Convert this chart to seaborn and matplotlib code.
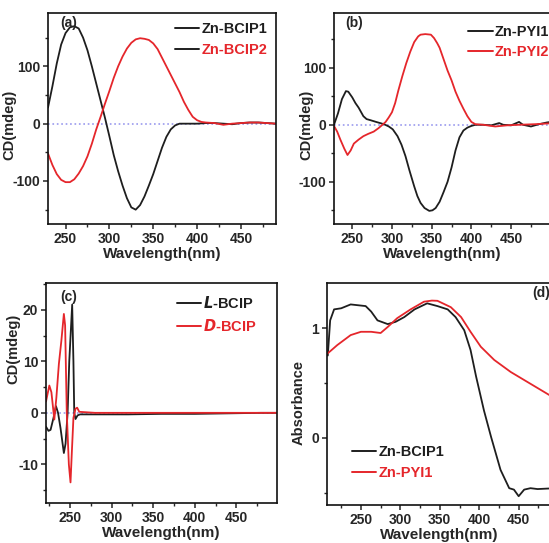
import matplotlib
matplotlib.use("Agg")
import matplotlib.pyplot as plt
import seaborn as sns
from matplotlib.ticker import MultipleLocator
from matplotlib.lines import Line2D

sns.set_style("ticks")
plt.rcParams['font.family'] = ['Liberation Sans', 'DejaVu Sans']
plt.rcParams['font.weight'] = 'bold'
plt.rcParams['axes.labelweight'] = 'bold'
plt.rcParams['axes.unicode_minus'] = False

BLACK = '#1e1e1e'
RED = '#e5262b'
ZERO = '#9a9aee'

# ---- panel (a): Zn-BCIP1 / Zn-BCIP2 CD spectra
a_wl1 = [230, 235, 240, 245, 250, 255, 260, 265, 270, 275, 280, 285, 290, 295,
         300, 305, 310, 315, 320, 325, 330, 335, 340, 345, 350, 355, 360, 365,
         370, 375, 380, 390, 400, 410, 420, 430, 440, 450, 460, 470, 480, 490]
a_bcip1 = [28, 65, 105, 138, 158, 168, 170, 166, 150, 128, 100, 70, 40, 10,
           -22, -55, -83, -108, -130, -146, -150, -142, -127, -108, -88, -65, -42, -23,
           -10, -3, 0, 0, 0, 1, 1, 0, -1, 1, 2, 2, 1, 0]
a_wl2 = [230, 235, 240, 245, 250, 255, 260, 265, 270, 275, 280, 285, 290, 295,
         300, 305, 310, 315, 320, 325, 330, 335, 340, 345, 350, 355, 360, 365,
         370, 375, 380, 385, 390, 395, 400, 405, 410, 420, 430, 440, 450, 460, 470, 480, 490]
a_bcip2 = [-52, -72, -88, -98, -102, -102, -97, -87, -74, -57, -35, -10, 12, 35,
           57, 80, 100, 117, 131, 141, 147, 149, 148, 146, 140, 130, 115, 100,
           85, 70, 55, 38, 24, 12, 6, 3, 2, 1, -2, 0, 1, 2, 2, 1, 0]

# ---- panel (b): Zn-PYI1 / Zn-PYI2 CD spectra
b_wl1 = [227, 232, 237, 242, 245, 250, 254, 258, 264, 268, 273, 280, 285, 290,
         296, 301, 307, 312, 317, 322, 328, 332, 336, 341, 347, 351, 355, 360,
         365, 370, 375, 380, 385, 390, 395, 400, 405, 415, 425, 435, 440, 450,
         460, 465, 475, 485, 495, 505]
b_pyi1 = [0, 20, 45, 59, 58, 48, 38, 30, 15, 10, 8, 5, 3, 1,
          -3, -8, -20, -35, -55, -80, -108, -125, -137, -146, -151, -150, -146, -135,
          -118, -100, -75, -45, -22, -10, -5, -2, 0, 0, -1, 3, 0, -1,
          5, 0, -3, 1, 4, 6]
b_wl2 = [227, 231, 235, 240, 244, 248, 252, 258, 264, 270, 277, 283, 288, 292,
         296, 300, 304, 308, 313, 318, 323, 328, 333, 336, 342, 349, 353, 357,
         360, 365, 370, 375, 380, 385, 390, 395, 400, 405, 415, 430, 445, 460, 480, 505]
b_pyi2 = [-2, -12, -26, -42, -53, -45, -33, -26, -20, -16, -12, -6, 0, 5,
          13, 22, 38, 60, 85, 108, 128, 145, 155, 158, 159, 158, 152, 143,
          135, 115, 95, 78, 58, 42, 28, 15, 5, 1, 0, -3, -1, 0, 1, 3]

# ---- panel (c): L-BCIP / D-BCIP CD spectra
c_wl1 = [221, 224, 226.5, 230, 233, 235.5, 238.5, 241, 242.5, 244.5, 247, 249,
         252.5, 254, 255, 256.5, 259, 262, 280, 320, 360, 400, 440, 480, 500]
c_lbcip = [-2.7, -3.5, -3.3, -1.0, 1.3, 0.0, -3.0, -6.0, -7.8, -6.0, 0.0, 10.0,
           21.0, 10.0, 0.0, -1.2, -0.5, -0.3, -0.3, -0.3, -0.2, -0.2, -0.1, 0.0, 0.0]
c_wl2 = [221, 225, 227.5, 231, 233.5, 236.5, 239.5, 242.5, 244, 246, 248.5, 250.5,
         252, 254, 256.5, 258.5, 261, 280, 320, 360, 400, 440, 480, 500]
c_dbcip = [2.2, 5.3, 4.0, -1.3, 3.0, 9.5, 14.0, 19.2, 17.0, 0.0, -10.0, -13.5,
           -8.0, -1.0, 0.8, 1.0, 0.2, 0.0, 0.0, 0.0, 0.0, 0.0, 0.0, 0.0]

# ---- panel (d): absorbance
d_wl1 = [208, 211, 216, 225, 237, 256, 263, 271, 284, 294, 305, 318, 334, 347,
         360, 370, 381, 389, 396, 406, 415, 427, 438, 444, 450, 457, 465, 474, 488, 495]
d_bcip1 = [0.75, 1.07, 1.17, 1.18, 1.215, 1.20, 1.15, 1.07, 1.036, 1.057, 1.10, 1.17, 1.225, 1.20,
           1.17, 1.10, 0.98, 0.80, 0.56, 0.25, 0.01, -0.29, -0.457, -0.47, -0.53, -0.47,
           -0.457, -0.465, -0.46, -0.46]
d_wl2 = [208, 220, 237, 250, 263, 275, 284, 296, 313, 330, 340, 347, 364, 377,
         389, 402, 419, 440, 461, 489, 495]
d_pyi1 = [0.77, 0.845, 0.936, 0.966, 0.966, 0.955, 1.01, 1.09, 1.17, 1.24, 1.25, 1.248, 1.19, 1.10,
          0.966, 0.83, 0.71, 0.60, 0.51, 0.39, 0.37]

W, H = 549, 543
fig = plt.figure(figsize=(W / 100, H / 100), dpi=100)


def px_axes(left, right, top, bottom):
    return fig.add_axes([left / W, (H - bottom) / H, (right - left) / W, (bottom - top) / H])


def style(ax, xlim, ylim, ymaj, ymin):
    ax.set_xlim(*xlim)
    ax.set_ylim(*ylim)
    ax.xaxis.set_major_locator(MultipleLocator(50))
    ax.xaxis.set_minor_locator(MultipleLocator(25))
    ax.yaxis.set_major_locator(MultipleLocator(ymaj))
    ax.yaxis.set_minor_locator(MultipleLocator(ymin))
    ax.tick_params(which='major', direction='out', length=3.5, width=1.1, labelsize=10, pad=2)
    ax.tick_params(which='minor', direction='out', length=2.2, width=1.0)
    for s in ax.spines.values():
        s.set_linewidth(1.2)
        s.set_color('#111111')
    for t in ax.get_xticklabels() + ax.get_yticklabels():
        t.set_fontweight('bold')
    ax.set_xlabel('Wavelength(nm)', fontsize=11, labelpad=1)


def ylabel(ax, text, x, y):
    ax.set_ylabel(text, fontsize=10.5)
    ax.yaxis.set_label_coords(x, y)


def legend(ax, labels, colors, line_colors, anchor):
    handles = [Line2D([], [], color=c, lw=1.4) for c in line_colors]
    leg = ax.legend(handles, labels, loc='upper left', bbox_to_anchor=anchor, frameon=False,
                    fontsize=10.5, handlelength=1.7, handletextpad=0.15, borderpad=0,
                    labelspacing=0.45, borderaxespad=0)
    for t, c in zip(leg.get_texts(), colors):
        t.set_color(c)
        t.set_fontweight('bold')


lw = 1.3

# (a)
ax = px_axes(48, 276, 13, 224)
ax.axhline(0, color=ZERO, ls=':', lw=1.2)
sns.lineplot(x=a_wl1, y=a_bcip1, ax=ax, color=BLACK, lw=lw, sort=False, estimator=None)
sns.lineplot(x=a_wl2, y=a_bcip2, ax=ax, color=RED, lw=lw, sort=False, estimator=None)
style(ax, (230, 490), (-175, 193), 100, 50)
ylabel(ax, 'CD(mdeg)', -0.14, 0.47)
ax.text(0.055, 0.985, '(a)', transform=ax.transAxes, fontsize=10, fontweight='bold', va='top')
legend(ax, ['Zn-BCIP1', 'Zn-BCIP2'], [BLACK, RED], [BLACK, BLACK], (0.555, 0.955))

# (b)
ax = px_axes(334, 550, 13, 224)
ax.axhline(0, color=ZERO, ls=':', lw=1.2)
sns.lineplot(x=b_wl1, y=b_pyi1, ax=ax, color=BLACK, lw=lw, sort=False, estimator=None)
sns.lineplot(x=b_wl2, y=b_pyi2, ax=ax, color=RED, lw=lw, sort=False, estimator=None)
style(ax, (227, 499), (-174, 196), 100, 50)
ylabel(ax, 'CD(mdeg)', -0.095, 0.47)
ax.text(0.05, 0.985, '(b)', transform=ax.transAxes, fontsize=10, fontweight='bold', va='top')
legend(ax, ['Zn-PYI1', 'Zn-PYI2'], [BLACK, RED], [BLACK, RED], (0.62, 0.945))

# (c)
ax = px_axes(46, 277, 283, 503)
ax.axhline(0, color=ZERO, ls=':', lw=1.2)
sns.lineplot(x=c_wl1, y=c_lbcip, ax=ax, color=BLACK, lw=lw, sort=False, estimator=None)
sns.lineplot(x=c_wl2, y=c_dbcip, ax=ax, color=RED, lw=lw, sort=False, estimator=None)
style(ax, (221, 499), (-17.5, 25.2), 10, 5)
ylabel(ax, 'CD(mdeg)', -0.11, 0.70)
ax.text(0.06, 0.97, '(c)', transform=ax.transAxes, fontsize=10, fontweight='bold', va='top')
legend(ax, [r'$\boldsymbol{L}$-BCIP', r'$\boldsymbol{D}$-BCIP'], [BLACK, RED], [BLACK, RED],
       (0.565, 0.945))

# (d)
ax = px_axes(327, 551, 283, 505)
sns.lineplot(x=d_wl1, y=d_bcip1, ax=ax, color=BLACK, lw=lw, sort=False, estimator=None)
sns.lineplot(x=d_wl2, y=d_pyi1, ax=ax, color=RED, lw=lw, sort=False, estimator=None)
style(ax, (207, 491), (-0.61, 1.41), 1, 0.5)
ylabel(ax, 'Absorbance', -0.095, 0.46)
ax.text(0.915, 0.985, '(d)', transform=ax.transAxes, fontsize=10, fontweight='bold', va='top')
legend(ax, ['Zn-BCIP1', 'Zn-PYI1'], [BLACK, RED], [BLACK, RED], (0.11, 0.27))

fig.savefig('out.png', dpi=100)
